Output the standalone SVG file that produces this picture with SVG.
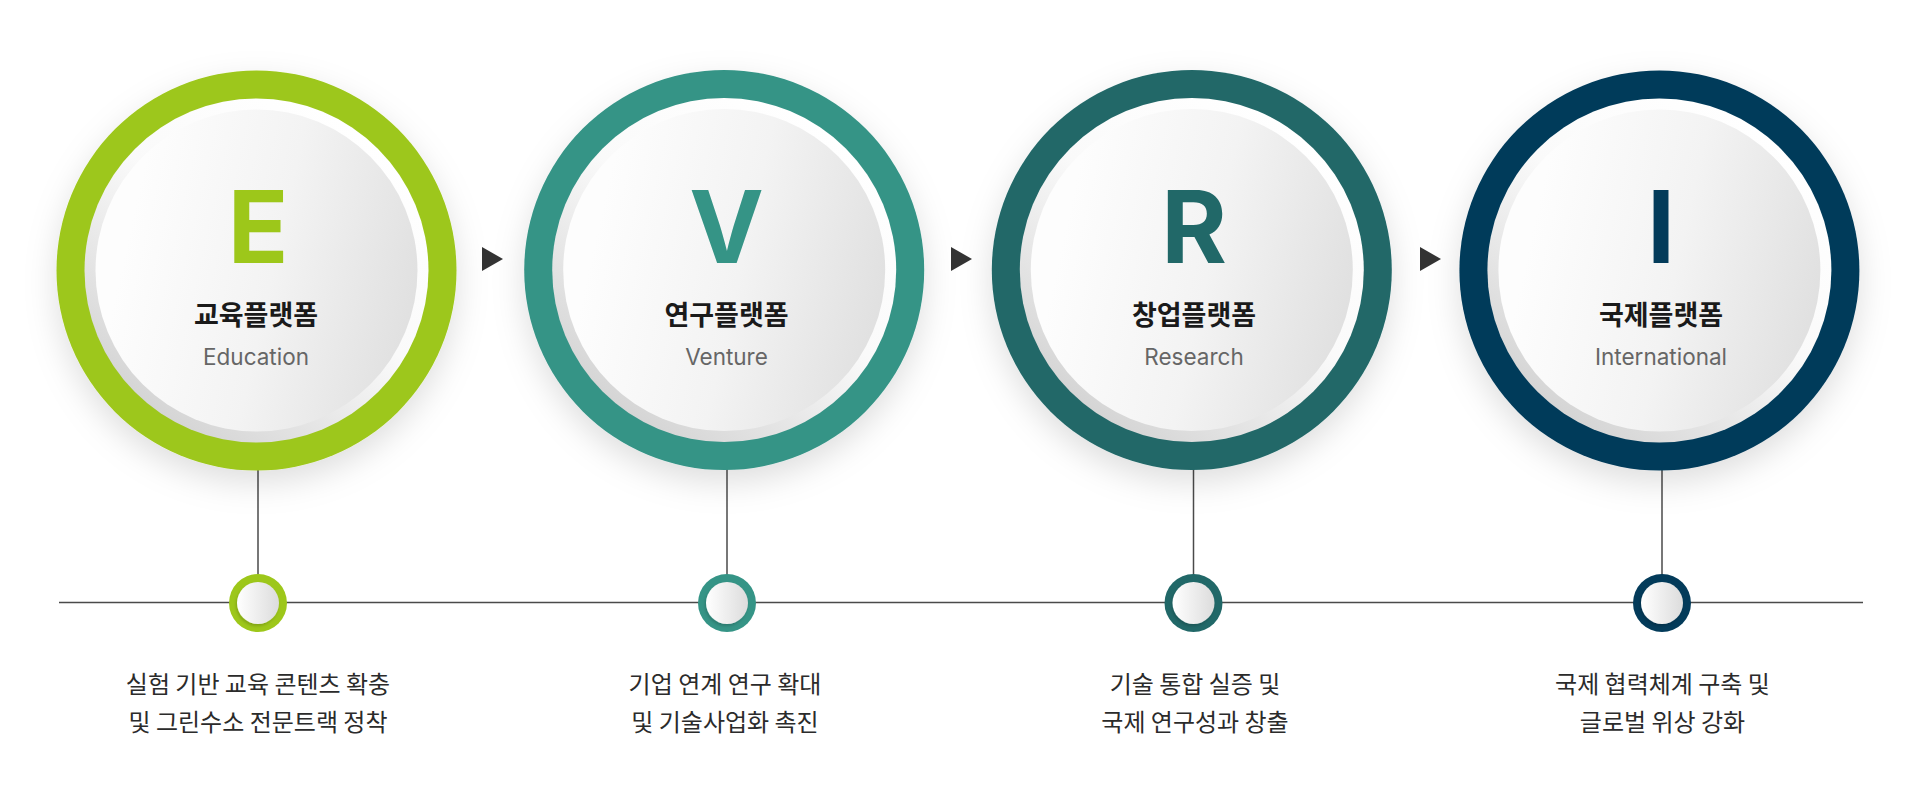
<svg xmlns="http://www.w3.org/2000/svg" width="1919" height="803" viewBox="0 0 1919 803">
<defs>
<filter id="sh" x="-30%" y="-30%" width="160%" height="170%">
<feDropShadow dx="0" dy="12" stdDeviation="16" flood-color="#000" flood-opacity="0.13"/>
</filter>
<filter id="sh2" x="-30%" y="-30%" width="160%" height="160%">
<feDropShadow dx="-1" dy="2" stdDeviation="1.5" flood-color="#000" flood-opacity="0.18"/>
</filter>
<linearGradient id="band" x1="0.8" y1="0.1" x2="0.2" y2="0.9">
<stop offset="0" stop-color="#ffffff"/>
<stop offset="0.45" stop-color="#fafafa"/>
<stop offset="1" stop-color="#d5d5d5"/>
</linearGradient>
<linearGradient id="disk" x1="0.1" y1="0.4" x2="1" y2="0.6">
<stop offset="0" stop-color="#fdfdfd"/>
<stop offset="0.5" stop-color="#f3f3f3"/>
<stop offset="1" stop-color="#e0e0e0"/>
</linearGradient>
<linearGradient id="sdisk" x1="0" y1="0.5" x2="1" y2="0.5">
<stop offset="0" stop-color="#ffffff"/>
<stop offset="1" stop-color="#dcdcdc"/>
</linearGradient>
<path id="tri" d="M0,0 L21,12 L0,24 Z"/>
</defs>
<style>
.letter{font-family:Inter,"Liberation Sans",sans-serif;font-weight:700;font-size:100px;text-anchor:middle}
.ko{font-family:"Noto Sans CJK KR",sans-serif;font-weight:700;font-size:27px;fill:#1a1a1a;text-anchor:middle}
.en{font-family:Inter,"Liberation Sans",sans-serif;font-size:22.5px;fill:#666;text-anchor:middle}
.desc{font-family:"Noto Sans CJK KR",sans-serif;font-size:24px;fill:#2b2b2b;text-anchor:middle}
.ln{stroke:#4a4a4a;stroke-width:1.5;fill:none}
.arrow{fill:#333}
</style>
<rect width="1919" height="803" fill="#ffffff"/>

<g id="connectors">
<line class="ln" x1="59" y1="602.5" x2="1863" y2="602.5"/>
<line class="ln" x1="258" y1="468" x2="258" y2="576"/>
<line class="ln" x1="727" y1="468" x2="727" y2="576"/>
<line class="ln" x1="1193.5" y1="468" x2="1193.5" y2="576"/>
<line class="ln" x1="1662" y1="468" x2="1662" y2="576"/>
<use href="#tri" class="arrow" x="482" y="247"/>
<use href="#tri" class="arrow" x="951" y="247"/>
<use href="#tri" class="arrow" x="1420" y="247"/>
</g>

<g id="node-e">
<circle cx="256.5" cy="270.5" r="200" fill="#9dc71a" filter="url(#sh)"/>
<circle cx="256.5" cy="270.5" r="172" fill="url(#band)"/>
<circle cx="256.5" cy="270.5" r="161" fill="url(#disk)"/>
<text class="letter" x="258" y="262.5" fill="#9dc71a">E</text>
<text class="ko" x="256" y="325">교육플랫폼</text>
<text class="en" x="256" y="365">Education</text>
</g>
<g id="dot-e">
<circle cx="258" cy="603" r="29" fill="#9dc71a"/>
<circle cx="258" cy="603" r="21" fill="url(#sdisk)" filter="url(#sh2)"/>
</g>
<text class="desc" x="258" y="693">실험 기반 교육 콘텐츠 확충</text>
<text class="desc" x="258" y="731">및 그린수소 전문트랙 정착</text>

<g id="node-v">
<circle cx="724.2" cy="270" r="200" fill="#359486" filter="url(#sh)"/>
<circle cx="724.2" cy="270" r="172" fill="url(#band)"/>
<circle cx="724.2" cy="270" r="161" fill="url(#disk)"/>
<text class="letter" x="726.5" y="263" fill="#359486">V</text>
<text class="ko" x="726.5" y="325">연구플랫폼</text>
<text class="en" x="726.5" y="365">Venture</text>
</g>
<g id="dot-v">
<circle cx="727" cy="603" r="29" fill="#359486"/>
<circle cx="727" cy="603" r="21" fill="url(#sdisk)" filter="url(#sh2)"/>
</g>
<text class="desc" x="725" y="693">기업 연계 연구 확대</text>
<text class="desc" x="725" y="731">및 기술사업화 촉진</text>

<g id="node-r">
<circle cx="1191.8" cy="270" r="200" fill="#216868" filter="url(#sh)"/>
<circle cx="1191.8" cy="270" r="172" fill="url(#band)"/>
<circle cx="1191.8" cy="270" r="161" fill="url(#disk)"/>
<text class="letter" x="1194" y="263" fill="#216868">R</text>
<text class="ko" x="1194" y="325">창업플랫폼</text>
<text class="en" x="1194" y="365">Research</text>
</g>
<g id="dot-r">
<circle cx="1193.5" cy="603" r="29" fill="#216868"/>
<circle cx="1193.5" cy="603" r="21" fill="url(#sdisk)" filter="url(#sh2)"/>
</g>
<text class="desc" x="1195" y="693">기술 통합 실증 및</text>
<text class="desc" x="1195" y="731">국제 연구성과 창출</text>

<g id="node-i">
<circle cx="1659.4" cy="270.5" r="200" fill="#033b5a" filter="url(#sh)"/>
<circle cx="1659.4" cy="270.5" r="172" fill="url(#band)"/>
<circle cx="1659.4" cy="270.5" r="161" fill="url(#disk)"/>
<text class="letter" x="1661" y="262.5" fill="#033b5a">I</text>
<text class="ko" x="1661" y="325">국제플랫폼</text>
<text class="en" x="1661" y="365">International</text>
</g>
<g id="dot-i">
<circle cx="1662" cy="603" r="29" fill="#033b5a"/>
<circle cx="1662" cy="603" r="21" fill="url(#sdisk)" filter="url(#sh2)"/>
</g>
<text class="desc" x="1662.5" y="693">국제 협력체계 구축 및</text>
<text class="desc" x="1662.5" y="731">글로벌 위상 강화</text>
</svg>
